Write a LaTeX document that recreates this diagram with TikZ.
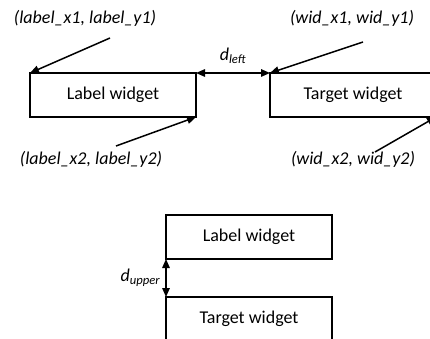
\documentclass[tikz,border=0pt]{standalone}
\usepackage{fontspec}
\setmainfont{Carlito}
\usetikzlibrary{positioning, arrows.meta}
\tikzset{
  widget/.style={
    draw, line width=1.5pt, outer sep=0pt, inner sep=0pt,
    minimum width=166pt, minimum height=44pt,
    font=\fontsize{18}{21}\selectfont
  },
  pointer/.style={-{Triangle[length=9pt,width=7.5pt]}, line width=1.5pt},
  gap/.style={{Triangle[length=9pt,width=7.5pt]}-{Triangle[length=9pt,width=7.5pt]}, line width=1.5pt},
  coordtext/.style={font=\itshape\fontsize{18}{21}\selectfont, inner sep=0pt},
  gaptext/.style={font=\itshape\fontsize{18}{21}\selectfont, inner sep=0pt},
}

\begin{document}
\begin{tikzpicture}[x=1pt, y=-1pt]
  \useasboundingbox (0,0) rectangle (430,339);
  \clip (0,0) rectangle (430,339);

  % side by side
  \node[widget, anchor=north west] (labelw) at (30,73) {Label widget};
  \node[widget, right=74pt of labelw] (targetw) {Target widget};

  \node[coordtext] (lab1) at (85,18) {(label\_x1, label\_y1)};
  \node[coordtext] (lab2) at (91,159) {(label\_x2, label\_y2)};
  \node[coordtext] (wid1) at (352,18) {(wid\_x1, wid\_y1)};
  \node[coordtext] (wid2) at (353,159) {(wid\_x2, wid\_y2)};

  \coordinate (lab1tail) at (110,38);
  \coordinate (lab2tail) at (116,146);
  \coordinate (wid1tail) at (363,42);
  \coordinate (wid2tail) at (375,152);

  \draw[pointer] (lab1tail) -- (labelw.north west);
  \draw[pointer] (lab2tail) -- (labelw.south east);
  \draw[pointer] (wid1tail) -- (targetw.north west);
  \draw[pointer] (wid2tail) -- (targetw.south east);

  \draw[gap] (labelw.north east) -- node[gaptext, above=9pt] (dleft) {d\textsubscript{left}} (targetw.north west);

  % stacked
  \node[widget, anchor=north west] (labelb) at (166,215) {Label widget};
  \node[widget, below=38pt of labelb] (targetb) {Target widget};

  \draw[gap] (labelb.south west) -- node[gaptext, left=5pt] (dupper) {d\textsubscript{upper}} (targetb.north west);
\end{tikzpicture}
\end{document}
